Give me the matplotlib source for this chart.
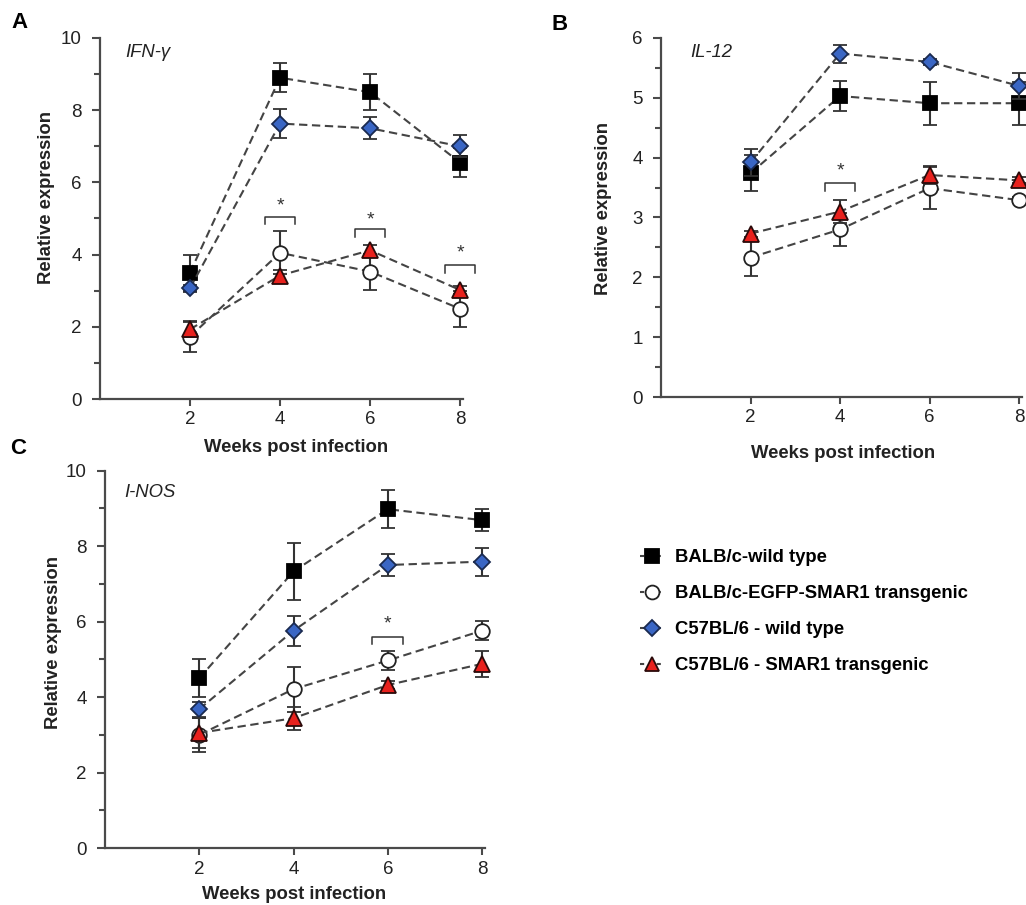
import matplotlib
matplotlib.use("Agg")
import matplotlib.pyplot as plt
from matplotlib.lines import Line2D
from matplotlib.ticker import MultipleLocator

plt.rcParams['font.family'] = ['Liberation Sans', 'DejaVu Sans']

weeks = [2, 4, 6, 8]
series_labels = ["BALB/c-wild type", "BALB/c-EGFP-SMAR1 transgenic",
                 "C57BL/6 - wild type", "C57BL/6 - SMAR1 transgenic"]

# Panel A: IFN-gamma
A_balb_wt = [3.5, 8.9, 8.5, 6.55]
A_balb_wt_err = [0.5, 0.4, 0.5, 0.4]
A_balb_tg = [1.73, 4.05, 3.53, 2.5]
A_balb_tg_err = [0.42, 0.6, 0.5, 0.5]
A_c57_wt = [3.07, 7.63, 7.5, 7.0]
A_c57_wt_err = [0.1, 0.4, 0.3, 0.3]
A_c57_tg = [1.93, 3.42, 4.12, 3.02]
A_c57_tg_err = [0.2, 0.15, 0.15, 0.1]

# Panel B: IL-12
B_balb_wt = [3.74, 5.03, 4.91, 4.91]
B_balb_wt_err = [0.3, 0.25, 0.36, 0.36]
B_balb_tg = [2.33, 2.80, 3.49, 3.29]
B_balb_tg_err = [0.3, 0.27, 0.35, 0.05]
B_c57_wt = [3.92, 5.74, 5.6, 5.2]
B_c57_wt_err = [0.22, 0.15, 0.05, 0.22]
B_c57_tg = [2.73, 3.10, 3.71, 3.62]
B_c57_tg_err = [0.05, 0.2, 0.15, 0.05]

# Panel C: I-NOS
C_balb_wt = [4.5, 7.33, 8.98, 8.69]
C_balb_wt_err = [0.5, 0.75, 0.5, 0.3]
C_balb_tg = [3.0, 4.21, 4.97, 5.76]
C_balb_tg_err = [0.45, 0.6, 0.25, 0.25]
C_c57_wt = [3.68, 5.76, 7.5, 7.59]
C_c57_wt_err = [0.2, 0.4, 0.28, 0.37]
C_c57_tg = [3.05, 3.44, 4.32, 4.88]
C_c57_tg_err = [0.4, 0.3, 0.1, 0.35]

# significance brackets: (week, top y, leg length, star y)
A_sig = [(4, 5.05, 0.2, 5.36), (6, 4.7, 0.2, 4.96), (8, 3.72, 0.22, 4.05)]
B_sig = [(4, 3.58, 0.13, 3.77)]
C_sig = [(6, 5.6, 0.2, 5.94)]

LINE_C = '#444444'
styles = [
    dict(marker='s', mfc='black', mec='black', ms=10),
    dict(marker='o', mfc='white', mec='#222222', ms=10.5),
    dict(marker='D', mfc='#3a66c4', mec='#1a2a50', ms=8.5),
    dict(marker='^', mfc='#e8211d', mec='#2a0a0a', ms=11),
]

fig = plt.figure(figsize=(10.26, 9.05), dpi=100)
W, H = 1026, 905
FS = 13.3


def make_ax(x0, x8, y0, ytop, ymax):
    unit = (x8 - x0) / 8.0
    xr = x0 + 8.06 * unit
    return fig.add_axes([x0 / W, 1 - y0 / H, (xr - x0) / W, (y0 - ytop) / H])


def draw_panel(ax, data, errs, ymax, ystep, yminor, name, sig, xl_pos, yl_pos, name_pos):
    order = [0, 2, 3, 1]
    for i in order:
        st = styles[i]
        ax.errorbar(weeks, data[i], yerr=errs[i], color=LINE_C, ls=(0, (4, 2.2)), lw=1.5,
                    elinewidth=1.5, ecolor='#333333', capsize=5, capthick=1.5,
                    marker=st['marker'], mfc=st['mfc'], mec=st['mec'], ms=st['ms'],
                    mew=1.3, clip_on=False, zorder=3 + i)
    for (wk, yt, leg, ys) in sig:
        ax.plot([wk - 0.33, wk - 0.33, wk + 0.33, wk + 0.33],
                [yt - leg, yt, yt, yt - leg], color='#333333', lw=1.1, clip_on=False)
        ax.text(wk, ys, '*', ha='center', va='center', fontsize=14, color='#333333')
    ax.set_xlim(0, 8.06)
    ax.set_ylim(0, ymax)
    ax.set_xticks(weeks)
    ax.yaxis.set_major_locator(MultipleLocator(ystep))
    ax.yaxis.set_minor_locator(MultipleLocator(yminor))
    for s in ['top', 'right']:
        ax.spines[s].set_visible(False)
    for s in ['left', 'bottom']:
        ax.spines[s].set_color('#4a4a4a')
        ax.spines[s].set_linewidth(1.6)
    ax.tick_params(axis='both', which='both', direction='out', color='#4a4a4a', width=1.5)
    ax.tick_params(axis='y', which='major', length=6, pad=7, labelsize=13.5, labelcolor='#222222')
    ax.tick_params(axis='y', which='minor', length=4)
    ax.tick_params(axis='x', which='major', length=5, pad=4, labelsize=13.5, labelcolor='#222222')
    ax.set_xlabel('Weeks post infection', fontsize=FS, fontweight='bold', color='#222222')
    ax.set_ylabel('Relative expression', fontsize=FS, fontweight='bold', color='#222222')
    ax.xaxis.set_label_coords(*xl_pos)
    ax.yaxis.set_label_coords(*yl_pos)
    ax.text(name_pos[0], name_pos[1], name, style='italic', fontsize=FS,
            color='#222222', ha='left', va='center', transform=ax.transAxes)


axA = make_ax(100, 460, 399, 38, 10)
draw_panel(axA, [A_balb_wt, A_balb_tg, A_c57_wt, A_c57_tg],
           [A_balb_wt_err, A_balb_tg_err, A_c57_wt_err, A_c57_tg_err],
           10, 2, 1, 'IFN-γ', A_sig, (0.541, -0.11), (-0.125, 0.557), (0.07, 0.96))

axB = make_ax(661, 1019, 397, 38, 6)
draw_panel(axB, [B_balb_wt, B_balb_tg, B_c57_wt, B_c57_tg],
           [B_balb_wt_err, B_balb_tg_err, B_c57_wt_err, B_c57_tg_err],
           6, 1, 0.5, 'IL-12', B_sig, (0.506, -0.133), (-0.136, 0.526), (0.08, 0.96))

axC = make_ax(105, 482, 848, 470.7, 10)
draw_panel(axC, [C_balb_wt, C_balb_tg, C_c57_wt, C_c57_tg],
           [C_balb_wt_err, C_balb_tg_err, C_c57_wt_err, C_c57_tg_err],
           10, 2, 1, 'I-NOS', C_sig, (0.499, -0.1), (-0.114, 0.544), (0.05, 0.942))

# panel letters
for lbl, (px, py) in zip(['A', 'B', 'C'], [(19, 22), (560, 24), (18, 448)]):
    fig.text(px / W, 1 - py / H, lbl, fontsize=16, fontweight='bold', ha='center', va='center')

handles = [Line2D([0], [0], color=LINE_C, ls=(0, (2, 2)), lw=1.5, marker=st['marker'],
                  mfc=st['mfc'], mec=st['mec'], ms=st['ms'] * 0.95, mew=1.3) for st in styles]
fig.legend(handles, series_labels, loc='upper left', bbox_to_anchor=(640 / W, 1 - 549 / H),
           frameon=False, prop=dict(family='Liberation Sans', weight='bold', size=13.3),
           labelspacing=1.03, handlelength=1.35, handletextpad=0.55, borderpad=0, borderaxespad=0)

fig.savefig('out.png', dpi=100)
